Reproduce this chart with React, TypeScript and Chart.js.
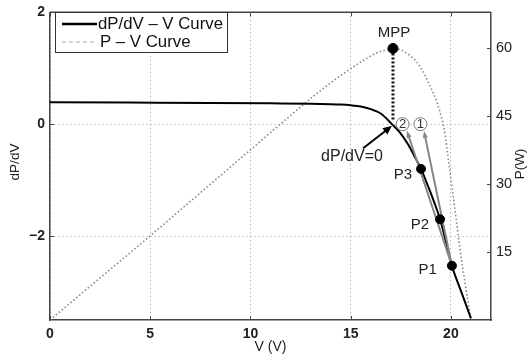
import React, { useEffect, useRef } from "react";
import { Chart, registerables } from "chart.js";

Chart.register(...registerables);

// ---- data ----
const dpdvVoltage = [0, 4, 8, 11, 13, 14, 14.5, 15, 15.5, 16.0, 16.5, 17.06, 17.46, 17.86, 18.15, 18.51, 18.85, 19.15, 19.46, 19.75, 20.05, 20.5, 21.0];
const dpdvValues = [0.39, 0.385, 0.38, 0.372, 0.365, 0.357, 0.35, 0.337, 0.315, 0.268, 0.19, 0.0, -0.15, -0.36, -0.55, -0.8, -1.1, -1.38, -1.7, -2.1, -2.53, -2.98, -3.47];

const pvVoltage = [0, 2.5, 5, 7.5, 10, 12, 13.5, 14.5, 15.5, 16.2, 16.7, 17.11, 17.5, 17.81, 18.15, 18.46, 18.96, 19.31, 19.56, 19.71, 19.86, 20.2, 20.45, 20.7, 21.0];
const pvPower = [0, 9.3, 18.6, 28.1, 37.6, 45.2, 50.7, 54.0, 57.0, 58.8, 59.6, 60, 59.7, 58.9, 57.7, 56.0, 51.7, 48.0, 44.2, 41.0, 36.0, 24.5, 15.8, 8.3, 0];

const trackVoltage = [20.05, 19.46, 18.51];
const trackDpdv = [-2.53, -1.7, -0.8];
const trackLabels = ["P1", "P2", "P3"];

const estimateVoltage = [18.48, 17.59];
const estimateDpdv = [0, 0];
const estimateLabels = ["1", "2"];

const mppVoltage = [17.11];
const mppPower = [60];

const zeroArrowFrom = [15.62, -0.43];
const zeroArrowTo = [17.06, -0.03];

const xTicks = [0, 5, 10, 15, 20];
const yLeftTicks = [-2, 0, 2];
const yRightTicks = [15, 30, 45, 60];

const legendLabels = ["dP/dV \u2013 V Curve", "P \u2013 V Curve"];

const FONT = "'Liberation Sans', Arial, Helvetica, sans-serif";

function drawArrow(ctx: CanvasRenderingContext2D, x1: number, y1: number, x2: number, y2: number, color: string, width: number, headLen: number, headW: number) {
  const dx = x2 - x1, dy = y2 - y1;
  const len = Math.hypot(dx, dy);
  const ux = dx / len, uy = dy / len;
  const bx = x2 - ux * headLen, by = y2 - uy * headLen;
  ctx.save();
  ctx.strokeStyle = color;
  ctx.fillStyle = color;
  ctx.lineWidth = width;
  ctx.setLineDash([]);
  ctx.beginPath();
  ctx.moveTo(x1, y1);
  ctx.lineTo(bx + ux * 1, by + uy * 1);
  ctx.stroke();
  ctx.beginPath();
  ctx.moveTo(x2, y2);
  ctx.lineTo(bx - uy * headW / 2, by + ux * headW / 2);
  ctx.lineTo(bx + uy * headW / 2, by - ux * headW / 2);
  ctx.closePath();
  ctx.fill();
  ctx.restore();
}

const annotPlugin = {
  id: "annot",
  afterDatasetDraw(chart: any, args: any) {
    if (args.index !== 1) return;
    const { ctx, scales } = chart;
    const { x, y, y2 } = scales;
    // MPP vertical dotted line
    const mx = x.getPixelForValue(mppVoltage[0]);
    ctx.save();
    ctx.strokeStyle = "#111";
    ctx.lineWidth = 3;
    ctx.setLineDash([2, 2]);
    ctx.beginPath();
    ctx.moveTo(mx, y2.getPixelForValue(mppPower[0]) + 5);
    ctx.lineTo(mx, y.getPixelForValue(0) - 3);
    ctx.stroke();
    ctx.restore();
    // gray arrows from P1 to the estimate circles
    const px = x.getPixelForValue(trackVoltage[0]);
    const py = y.getPixelForValue(trackDpdv[0]);
    for (let i = 0; i < estimateVoltage.length; i++) {
      const cx = x.getPixelForValue(estimateVoltage[i]);
      const cy = y.getPixelForValue(estimateDpdv[i]);
      const dx = cx - px, dy = cy - py;
      const len = Math.hypot(dx, dy);
      const tx = cx - (dx / len) * 7 + 2;
      const ty = cy - (dy / len) * 7;
      drawArrow(ctx, px, py, tx, ty, "#858585", 2, 7, 5);
    }
  },
  afterDatasetsDraw(chart: any) {
    const { ctx, scales, chartArea } = chart;
    const { x, y, y2 } = scales;
    ctx.save();
    // digits inside circles
    ctx.fillStyle = "#333";
    ctx.font = `13px ${FONT}`;
    ctx.textAlign = "center";
    ctx.textBaseline = "middle";
    for (let i = 0; i < estimateVoltage.length; i++) {
      ctx.fillText(estimateLabels[i], x.getPixelForValue(estimateVoltage[i]), y.getPixelForValue(estimateDpdv[i]) + 0.5);
    }
    // P labels
    ctx.fillStyle = "#222";
    ctx.font = `15px ${FONT}`;
    ctx.textAlign = "right";
    const offs = [[-15, 4], [-11, 5.5], [-9, 6]];
    for (let i = 0; i < trackVoltage.length; i++) {
      ctx.fillText(trackLabels[i], x.getPixelForValue(trackVoltage[i]) + offs[i][0], y.getPixelForValue(trackDpdv[i]) + offs[i][1]);
    }
    // MPP label
    ctx.textAlign = "center";
    ctx.fillText("MPP", x.getPixelForValue(mppVoltage[0]) + 1, y2.getPixelForValue(mppPower[0]) - 16);
    // dP/dV=0 label and arrow
    ctx.font = `16px ${FONT}`;
    ctx.fillText("dP/dV=0", 352, 157);
    drawArrow(ctx, x.getPixelForValue(zeroArrowFrom[0]), y.getPixelForValue(zeroArrowFrom[1]), x.getPixelForValue(zeroArrowTo[0]), y.getPixelForValue(zeroArrowTo[1]), "#000", 2, 9, 8);

    // top border
    ctx.strokeStyle = "#444";
    ctx.lineWidth = 1.5;
    ctx.setLineDash([]);
    ctx.beginPath();
    ctx.moveTo(chartArea.left, chartArea.top);
    ctx.lineTo(chartArea.right, chartArea.top);
    ctx.stroke();
    // inward ticks
    ctx.lineWidth = 1;
    ctx.beginPath();
    for (const v of xTicks) {
      const p = Math.round(x.getPixelForValue(v)) + 0.5;
      ctx.moveTo(p, chartArea.bottom);
      ctx.lineTo(p, chartArea.bottom - 4);
      ctx.moveTo(p, chartArea.top);
      ctx.lineTo(p, chartArea.top + 4);
    }
    for (const v of yLeftTicks) {
      const p = Math.round(y.getPixelForValue(v)) + 0.5;
      ctx.moveTo(chartArea.left, p);
      ctx.lineTo(chartArea.left + 4, p);
    }
    for (const v of yRightTicks) {
      const p = Math.round(y2.getPixelForValue(v)) + 0.5;
      ctx.moveTo(chartArea.right, p);
      ctx.lineTo(chartArea.right - 4, p);
    }
    ctx.stroke();

    // legend
    const lx = 55.5, ly = 12.5, lw = 172, lh = 40;
    ctx.fillStyle = "#fff";
    ctx.fillRect(lx, ly, lw, lh);
    ctx.strokeStyle = "#333";
    ctx.lineWidth = 1;
    ctx.strokeRect(lx, ly, lw, lh);
    ctx.strokeStyle = "#000";
    ctx.lineWidth = 2.5;
    ctx.beginPath();
    ctx.moveTo(62, 24);
    ctx.lineTo(97, 24);
    ctx.stroke();
    ctx.strokeStyle = "#aaa";
    ctx.lineWidth = 1.2;
    ctx.setLineDash([4, 3]);
    ctx.beginPath();
    ctx.moveTo(62, 42);
    ctx.lineTo(97, 42);
    ctx.stroke();
    ctx.setLineDash([]);
    ctx.fillStyle = "#111";
    ctx.font = `16.8px ${FONT}`;
    ctx.textAlign = "left";
    ctx.textBaseline = "middle";
    ctx.fillText(legendLabels[0], 98, 24.5);
    ctx.fillText(legendLabels[1], 100, 42.5);

    // axis titles
    ctx.fillStyle = "#222";
    ctx.font = `14px ${FONT}`;
    ctx.textAlign = "center";
    ctx.fillText("V (V)", (chartArea.left + chartArea.right) / 2, 347.5);
    ctx.font = `13.5px ${FONT}`;
    ctx.save();
    ctx.translate(15.5, 162);
    ctx.rotate(-Math.PI / 2);
    ctx.fillText("dP/dV", 0, 0);
    ctx.restore();
    ctx.save();
    ctx.translate(520.5, 164);
    ctx.rotate(-Math.PI / 2);
    ctx.fillText("P(W)", 0, 0);
    ctx.restore();
    ctx.restore();
  },
};

export default function App() {
  const ref = useRef<HTMLCanvasElement | null>(null);
  useEffect(() => {
    if (!ref.current) return;
    const tickFontBold = { family: FONT, size: 14, weight: "bold" as const, lineHeight: 1 };
    const tickFont = { family: FONT, size: 14.5, lineHeight: 1 };
    const chart = new Chart(ref.current, {
      type: "line",
      data: {
        datasets: [
          {
            label: legendLabels[1],
            data: pvVoltage.map((v, i) => ({ x: v, y: pvPower[i] })),
            yAxisID: "y2",
            borderColor: "#8c8c8c",
            borderWidth: 1.6,
            borderDash: [1.6, 2.2],
            pointRadius: 0,
            cubicInterpolationMode: "monotone",
            fill: false,
            order: 10,
          },
          {
            label: legendLabels[0],
            data: dpdvVoltage.map((v, i) => ({ x: v, y: dpdvValues[i] })),
            yAxisID: "y",
            borderColor: "#000",
            borderWidth: 2,
            pointRadius: 0,
            cubicInterpolationMode: "monotone",
            fill: false,
            order: 9,
          },
          {
            label: "estimates",
            data: estimateVoltage.map((v, i) => ({ x: v, y: estimateDpdv[i] })),
            yAxisID: "y",
            showLine: false,
            pointRadius: 6.5,
            pointBackgroundColor: "#fff",
            pointBorderColor: "#777",
            pointBorderWidth: 1,
            order: 5,
          },
          {
            label: "track",
            data: trackVoltage.map((v, i) => ({ x: v, y: trackDpdv[i] })),
            yAxisID: "y",
            showLine: false,
            pointRadius: 4.5,
            pointBackgroundColor: "#000",
            pointBorderColor: "#000",
            pointBorderWidth: 1,
            order: 4,
          },
          {
            label: "MPP",
            data: mppVoltage.map((v, i) => ({ x: v, y: mppPower[i] })),
            yAxisID: "y2",
            showLine: false,
            pointRadius: 5,
            pointBackgroundColor: "#000",
            pointBorderColor: "#000",
            pointBorderWidth: 1,
            order: 4,
          },
        ],
      },
      options: {
        animation: false,
        responsive: false,
        events: [],
        layout: { padding: { top: 8, left: 0, right: 0, bottom: 0 } },
        plugins: { legend: { display: false }, tooltip: { enabled: false } },
        scales: {
          x: {
            type: "linear",
            min: 0,
            max: 22,
            afterBuildTicks: (s: any) => { s.ticks = xTicks.map((v) => ({ value: v })); },
            afterFit: (s: any) => { s.height = 38; },
            grid: { color: "#9a9a9a", drawTicks: false, lineWidth: 1 },
            border: { color: "#444", width: 1.5, dash: [1, 3] },
            ticks: { font: tickFontBold, color: "#222", padding: 7, maxRotation: 0 },
          },
          y: {
            type: "linear",
            position: "left",
            min: -3.5,
            max: 2,
            afterBuildTicks: (s: any) => { s.ticks = yLeftTicks.map((v) => ({ value: v })); },
            afterFit: (s: any) => { s.width = 50; },
            grid: { color: "#9a9a9a", drawTicks: false, lineWidth: 1 },
            border: { color: "#444", width: 1.5, dash: [1, 3] },
            ticks: { font: tickFontBold, color: "#222", padding: 5, callback: (v: any) => (v < 0 ? "\u2212" + Math.abs(v) : String(v)) },
          },
          y2: {
            type: "linear",
            position: "right",
            min: 0,
            max: 68,
            afterBuildTicks: (s: any) => { s.ticks = yRightTicks.map((v) => ({ value: v })); },
            afterFit: (s: any) => { s.width = 37; },
            grid: { display: false, drawOnChartArea: false, drawTicks: false },
            border: { color: "#444", width: 1.5 },
            ticks: { font: tickFont, color: "#222", padding: 5 },
          },
        },
      },
      plugins: [annotPlugin],
    } as any);
    return () => chart.destroy();
  }, []);
  return (
    <div style={{ position: "fixed", left: 0, top: 0, width: 528, height: 358, background: "#fff" }}>
      <canvas ref={ref} width={528} height={358} style={{ display: "block" }} />
    </div>
  );
}
